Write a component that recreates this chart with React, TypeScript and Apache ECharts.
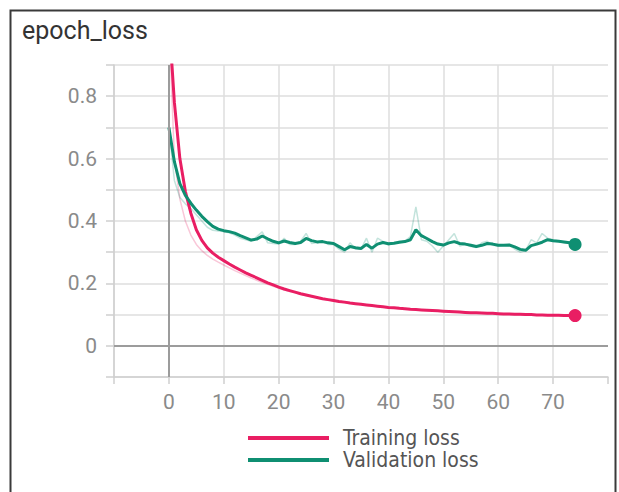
import React, { useEffect, useRef } from "react";
import * as echarts from "echarts";

const TITLE = "epoch_loss";
const SERIES_NAMES = ["Training loss", "Validation loss"];
const X_TICKS_SHOWN = [0, 10, 20, 30, 40, 50, 60, 70];
const Y_TICKS_SHOWN = ["0", "0.2", "0.4", "0.6", "0.8"];

// smoothed training loss, epochs 0..74
const trainSmooth = [
  1.05, 0.78, 0.6, 0.495, 0.425, 0.372, 0.338, 0.314, 0.297, 0.284,
  0.273, 0.262, 0.252, 0.243, 0.234, 0.226, 0.218, 0.21, 0.202, 0.195,
  0.188, 0.182, 0.177, 0.172, 0.167, 0.163, 0.159, 0.155, 0.151, 0.148,
  0.145, 0.142, 0.14, 0.137, 0.135, 0.133, 0.131, 0.129, 0.127, 0.125,
  0.123, 0.122, 0.12, 0.119, 0.117, 0.116, 0.115, 0.114, 0.113, 0.112,
  0.111, 0.11, 0.109, 0.108, 0.107, 0.106, 0.106, 0.105, 0.104, 0.104,
  0.103, 0.102, 0.102, 0.101, 0.101, 0.1, 0.1, 0.099, 0.099, 0.098,
  0.098, 0.098, 0.097, 0.097, 0.097,
];

// raw training loss (faint line)
const trainRaw = [
  1.05, 0.6, 0.47, 0.4, 0.355, 0.325, 0.305, 0.29, 0.278, 0.268,
  0.259, 0.25, 0.241, 0.233, 0.225, 0.217, 0.21, 0.203, 0.197, 0.191,
  0.185, 0.179, 0.174, 0.17, 0.165, 0.161, 0.157, 0.154, 0.15, 0.147,
  0.144, 0.141, 0.138, 0.136, 0.134, 0.132, 0.13, 0.128, 0.126, 0.124,
  0.122, 0.121, 0.119, 0.118, 0.116, 0.115, 0.114, 0.113, 0.112, 0.111,
  0.11, 0.109, 0.108, 0.107, 0.106, 0.105, 0.105, 0.104, 0.103, 0.103,
  0.102, 0.101, 0.101, 0.1, 0.1, 0.099, 0.099, 0.098, 0.098, 0.097,
  0.097, 0.097, 0.096, 0.096, 0.096,
];

// smoothed validation loss
const valSmooth = [
  0.7, 0.59, 0.52, 0.482, 0.457, 0.435, 0.415, 0.398, 0.383, 0.374,
  0.369, 0.366, 0.361, 0.353, 0.346, 0.339, 0.342, 0.352, 0.343, 0.335,
  0.33, 0.336, 0.331, 0.328, 0.331, 0.344, 0.337, 0.333, 0.334, 0.33,
  0.328, 0.318, 0.308, 0.318, 0.314, 0.312, 0.325, 0.313, 0.326, 0.331,
  0.327, 0.329, 0.332, 0.334, 0.34, 0.372, 0.353, 0.344, 0.334, 0.326,
  0.323, 0.33, 0.334, 0.328, 0.326, 0.322, 0.318, 0.322, 0.328, 0.326,
  0.322, 0.322, 0.323, 0.317, 0.309, 0.306, 0.321, 0.326, 0.332, 0.34,
  0.337, 0.335, 0.333, 0.33, 0.325,
];

// raw validation loss (faint line)
const valRaw = [
  0.7, 0.53, 0.475, 0.455, 0.44, 0.42, 0.4, 0.38, 0.37, 0.368,
  0.366, 0.362, 0.355, 0.345, 0.34, 0.335, 0.35, 0.365, 0.33, 0.328,
  0.326, 0.345, 0.325, 0.325, 0.335, 0.36, 0.328, 0.33, 0.335, 0.325,
  0.325, 0.31, 0.3, 0.33, 0.31, 0.31, 0.345, 0.3, 0.345, 0.335,
  0.323, 0.33, 0.335, 0.336, 0.35, 0.445, 0.34, 0.335, 0.32, 0.3,
  0.32, 0.34, 0.36, 0.32, 0.325, 0.318, 0.315, 0.33, 0.335, 0.322,
  0.32, 0.322, 0.325, 0.31, 0.3, 0.305, 0.34, 0.33, 0.36, 0.345,
  0.34, 0.335, 0.33, 0.328, 0.32,
];

const PINK = "#e91e63";
const TEAL = "#0f8f72";

const toPairs = (arr: number[]) => arr.map((v, i) => [i, v]);

export default function App() {
  const ref = useRef<HTMLDivElement>(null);
  useEffect(() => {
    if (!ref.current) return;
    const chart = echarts.init(ref.current, null, { renderer: "svg" });
    const lastIdx = trainSmooth.length - 1;
    const endDot = (_v: any, p: any) => (p.dataIndex === lastIdx ? 13 : 0);
    chart.setOption({
      animation: false,
      backgroundColor: "#fff",
      title: {
        text: TITLE,
        left: 22,
        top: 18,
        padding: 0,
        textStyle: {
          fontFamily: "Roboto",
          fontSize: 25,
          fontWeight: "normal",
          color: "#333",
        },
      },
      graphic: [
        {
          type: "rect",
          shape: { x: 10.5, y: 10.5, width: 605, height: 500 },
          style: { fill: "none", stroke: "#3a3a3a", lineWidth: 2 },
          silent: true,
        },
      ],
      legend: {
        orient: "vertical",
        left: 248,
        top: 427,
        padding: 0,
        itemGap: 0,
        itemWidth: 81,
        itemHeight: 4,
        icon: "rect",
        data: SERIES_NAMES,
        textStyle: {
          fontFamily: "DejaVu Sans Condensed",
          fontSize: 21,
          lineHeight: 22,
          color: "#555",
          padding: [0, 0, 0, 9],
        },
      },
      grid: { left: 114, right: 11, top: 65, bottom: 115 },
      xAxis: {
        type: "value",
        min: -10,
        max: 80,
        interval: 10,
        axisLine: { show: true, onZero: false, lineStyle: { color: "#cfcfcf", width: 1.5 } },
        axisTick: { show: true, length: 7, lineStyle: { color: "#cfcfcf", width: 1.5 } },
        axisLabel: {
          margin: 14,
          fontFamily: "Roboto",
          fontSize: 21,
          color: "#8a8a8a",
          formatter: (v: number) =>
            X_TICKS_SHOWN.indexOf(Math.round(v)) >= 0 ? String(Math.round(v)) : "",
        },
        splitLine: {
          show: true,
          showMaxLine: false,
          lineStyle: { color: "#dedede", width: 1.5 },
        },
      },
      yAxis: {
        type: "value",
        min: -0.1,
        max: 0.9,
        interval: 0.1,
        axisLine: { show: true, onZero: false, lineStyle: { color: "#cfcfcf", width: 1.5 } },
        axisTick: { show: true, length: 8, lineStyle: { color: "#cfcfcf", width: 1.5 } },
        axisLabel: {
          margin: 17,
          fontFamily: "Roboto",
          fontSize: 21,
          color: "#8a8a8a",
          formatter: (v: number) => {
            const r = Math.round(v * 10);
            const s = r === 0 ? "0" : (r / 10).toFixed(1);
            return Y_TICKS_SHOWN.indexOf(s) >= 0 ? s : "";
          },
        },
        splitLine: { show: true, lineStyle: { color: "#dedede", width: 1.5 } },
      },
      series: [
        {
          name: "Training loss raw",
          type: "line",
          data: toPairs(trainRaw),
          symbol: "none",
          color: PINK,
          lineStyle: { width: 1.5, color: PINK, opacity: 0.25 },
          z: 1,
          markLine: {
            silent: true,
            symbol: "none",
            label: { show: false },
            lineStyle: { color: "#9c9c9c", width: 2, type: "solid" },
            data: [{ yAxis: 0 }, { xAxis: 0 }],
          },
        },
        {
          name: "Validation loss raw",
          type: "line",
          data: toPairs(valRaw),
          symbol: "none",
          color: TEAL,
          lineStyle: { width: 1.5, color: TEAL, opacity: 0.25 },
          z: 1,
        },
        {
          name: SERIES_NAMES[0],
          type: "line",
          data: toPairs(trainSmooth),
          symbol: "circle",
          showSymbol: true,
          symbolSize: endDot,
          color: PINK,
          itemStyle: { color: PINK, borderWidth: 0 },
          lineStyle: { width: 3, color: PINK },
          z: 3,
        },
        {
          name: SERIES_NAMES[1],
          type: "line",
          data: toPairs(valSmooth),
          symbol: "circle",
          showSymbol: true,
          symbolSize: endDot,
          color: TEAL,
          itemStyle: { color: TEAL, borderWidth: 0 },
          lineStyle: { width: 3, color: TEAL },
          z: 4,
        },
      ],
    });
    return () => chart.dispose();
  }, []);
  return (
    <div
      ref={ref}
      style={{ position: "fixed", left: 0, top: 0, width: 619, height: 492 }}
    />
  );
}
